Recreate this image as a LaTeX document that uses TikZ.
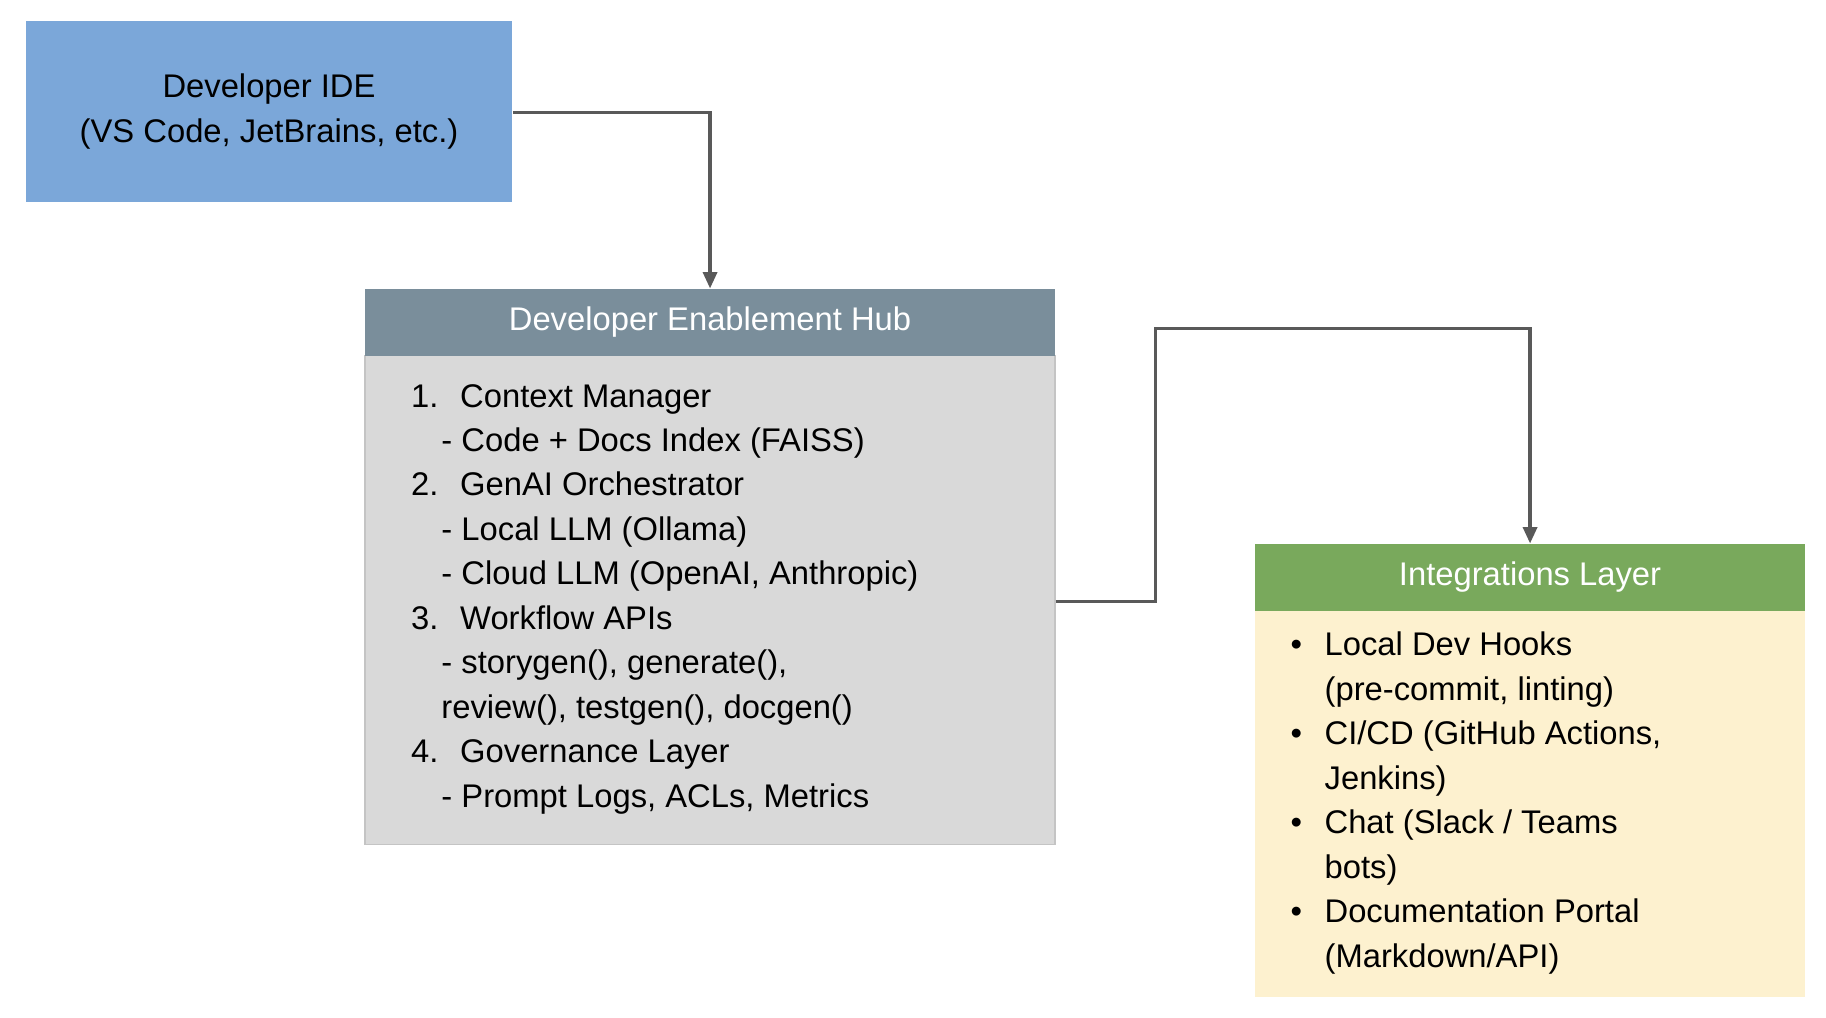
\documentclass[tikz,border=0pt]{standalone}
\usepackage{fontspec}
\setmainfont{Liberation Sans}
\usetikzlibrary{arrows.meta}
\definecolor{ideblue}{HTML}{7BA7D9}
\definecolor{hubhead}{HTML}{7A8E9B}
\definecolor{hubbody}{HTML}{D9D9D9}
\definecolor{hubline}{HTML}{C4C4C4}
\definecolor{inthead}{HTML}{79A95C}
\definecolor{intbody}{HTML}{FDF1CF}
\definecolor{conn}{HTML}{595959}
\tikzset{
  conn/.style={draw=conn,line width=1.4pt,-{Triangle[length=7pt,width=6pt]}},
  txt/.style={font=\fontsize{14pt}{19pt}\selectfont,inner sep=0pt},
}
\newcommand{\nm}[1]{\makebox[21pt][l]{#1}}
\newcommand{\bl}{\makebox[14.5pt][l]{\textbullet}}
\begin{document}
\begin{tikzpicture}[x=0.5pt,y=-0.5pt]
\useasboundingbox[fill=white] (0,0) rectangle (1561,870);
% IDE
\node[fill=ideblue,minimum width=208pt,minimum height=77.5pt,inner sep=0pt,txt,align=center] (ide) at (230,95.5) {Developer IDE\\(VS Code, JetBrains, etc.)};
% Hub
\fill[hubbody,draw=hubline,line width=0.6pt] (312,304) rectangle (902,722);
\node[fill=hubhead,minimum width=295pt,minimum height=28.5pt,inner sep=0pt,txt,text=white] (hubh) at (607,275.5) {Developer Enablement Hub};
\node[minimum width=295pt,minimum height=209pt,inner sep=0pt] (hub) at (607,513) {};
\node[txt,anchor=north west,align=left] (hubt) at (351,328) {\nm{1.}Context Manager\\\hspace*{13pt}- Code + Docs Index (FAISS)\\\nm{2.}GenAI Orchestrator\\\hspace*{13pt}- Local LLM (Ollama)\\\hspace*{13pt}- Cloud LLM (OpenAI, Anthropic)\\\nm{3.}Workflow APIs\\\hspace*{13pt}- storygen(), generate(),\\\hspace*{13pt}review(), testgen(), docgen()\\\nm{4.}Governance Layer\\\hspace*{13pt}- Prompt Logs, ACLs, Metrics};
% Integrations
\fill[intbody] (1073,522) rectangle (1543,852);
\node[fill=inthead,minimum width=235pt,minimum height=28.5pt,inner sep=0pt,txt,text=white] (inth) at (1308,493.5) {Integrations Layer};
\node[txt,anchor=north west,align=left] (intt) at (1103,540) {\bl Local Dev Hooks\\\hspace*{14.5pt}(pre-commit, linting)\\\bl CI/CD (GitHub Actions,\\\hspace*{14.5pt}Jenkins)\\\bl Chat (Slack / Teams\\\hspace*{14.5pt}bots)\\\bl Documentation Portal\\\hspace*{14.5pt}(Markdown/API)};
% connectors
\coordinate (c1) at (607,96);
\draw[conn] (ide.east |- c1) -- (c1) -- (hubh.north);
\coordinate (c2) at (988,514);
\coordinate (c3) at (988,281);
\coordinate (c4) at (1308,281);
\draw[conn] (hub.east |- c2) -- (c2) -- (c3) -- (c4) -- (inth.north);
\end{tikzpicture}
\end{document}
